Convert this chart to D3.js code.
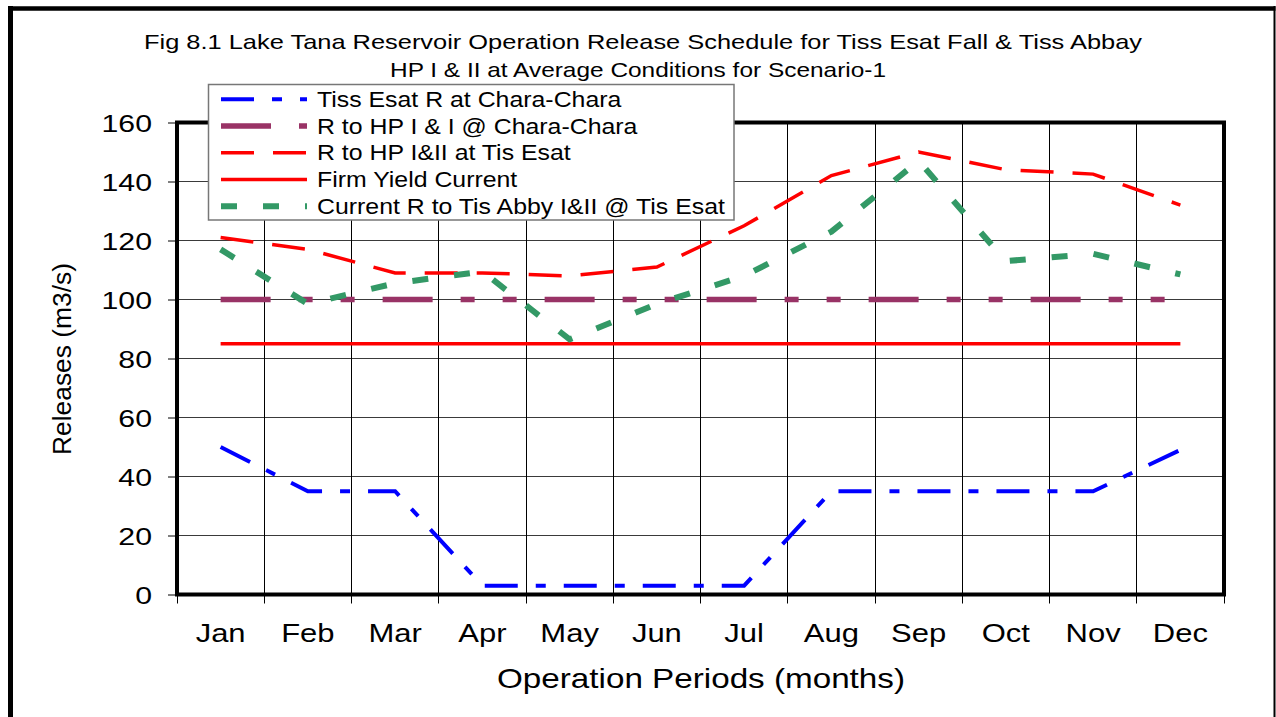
<!DOCTYPE html>
<html>
<head>
<meta charset="utf-8">
<script src="https://cdn.jsdelivr.net/npm/d3@7/dist/d3.min.js"></script>
<style>
  html, body { margin: 0; padding: 0; background: #fff; }
  svg { display: block; font-family: "Liberation Sans", Arial, Helvetica, sans-serif; }
</style>
</head>
<body>
<svg id="chart" width="1276" height="717"></svg>
<script>
// Monthly release schedule, m3/s
const months = ["Jan", "Feb", "Mar", "Apr", "May", "Jun", "Jul", "Aug", "Sep", "Oct", "Nov", "Dec"];
const yTicks = [0, 20, 40, 60, 80, 100, 120, 140, 160];

const tissEsatChara   = [50, 35, 35, 3, 3, 3, 3, 35, 35, 35, 35, 49];
const hpChara         = [100, 100, 100, 100, 100, 100, 100, 100, 100, 100, 100, 100];
const hpTisEsat       = [121, 117, 109, 109, 108, 111, 125, 142, 150, 144, 142.5, 132];
const firmYield       = [85, 85, 85, 85, 85, 85, 85, 85, 85, 85, 85, 85];
const currentTisAbby  = [117, 98.5, 105.5, 109.5, 86.5, 98.5, 108, 123, 147, 113, 115.5, 108.5];

const seriesNames = [
  "Tiss Esat R at Chara-Chara",
  "R to HP I & I @ Chara-Chara",
  "R to HP I&II at Tis Esat",
  "Firm Yield Current",
  "Current R to Tis Abby I&II @ Tis Esat"
];

const titleLines = [
  "Fig 8.1 Lake Tana Reservoir Operation Release Schedule for Tiss Esat Fall & Tiss Abbay",
  "HP I & II at Average Conditions for Scenario-1"
];
const xTitle = "Operation Periods (months)";
const yTitle = "Releases (m3/s)";

// Line styles for each series, in drawing order
const series = [
  { name: seriesNames[0], values: tissEsatChara,  color: "#0000FF", width: 4,   dash: "33,18,10,18" },
  { name: seriesNames[1], values: hpChara,        color: "#993366", width: 5.5, dash: "50,28,14,28,14,28" },
  { name: seriesNames[2], values: hpTisEsat,      color: "#FF0000", width: 3.5, dash: "33,19" },
  { name: seriesNames[3], values: firmYield,      color: "#FF0000", width: 3.5, dash: null },
  { name: seriesNames[4], values: currentTisAbby, color: "#339966", width: 6,   dash: "16,26" }
];

const svg = d3.select("#chart");
const plot = { left: 177, right: 1224, top: 122.5, bottom: 594.5 };

const x = d3.scaleBand().domain(months).range([plot.left, plot.right]).padding(0);
const y = d3.scaleLinear().domain([0, 160]).range([plot.bottom, plot.top]);
const cx = m => x(m) + x.bandwidth() / 2;
const crisp = v => Math.round(v - 0.5) + 0.5;

// Outer chart frame
svg.append("line").attr("x1", 10.5).attr("x2", 10.5).attr("y1", 6).attr("y2", 717)
  .attr("stroke", "#000").attr("stroke-width", 5);
svg.append("line").attr("x1", 8).attr("x2", 1275.5).attr("y1", 8.5).attr("y2", 8.5)
  .attr("stroke", "#000").attr("stroke-width", 4.5);
svg.append("line").attr("x1", 1274.5).attr("x2", 1274.5).attr("y1", 6).attr("y2", 717)
  .attr("stroke", "#000").attr("stroke-width", 2);

// Title
svg.append("text").attr("x", 643).attr("y", 48.5).attr("text-anchor", "middle")
  .attr("font-size", 21).attr("textLength", 998).attr("lengthAdjust", "spacingAndGlyphs")
  .text(titleLines[0]);
svg.append("text").attr("x", 638).attr("y", 77).attr("text-anchor", "middle")
  .attr("font-size", 21).attr("textLength", 496).attr("lengthAdjust", "spacingAndGlyphs")
  .text(titleLines[1]);

// Horizontal gridlines
svg.append("g").selectAll("line").data(yTicks.filter(t => t > 0 && t < 160)).join("line")
  .attr("x1", plot.left).attr("x2", plot.right)
  .attr("y1", d => crisp(y(d))).attr("y2", d => crisp(y(d)))
  .attr("stroke", "#3a3a3a").attr("stroke-width", 1);

// Vertical gridlines between months
const bounds = d3.range(1, months.length).map(i => plot.left + i * x.step());
svg.append("g").selectAll("line").data(bounds).join("line")
  .attr("x1", d => crisp(d)).attr("x2", d => crisp(d))
  .attr("y1", plot.top).attr("y2", plot.bottom)
  .attr("stroke", "#000").attr("stroke-width", 1);

// Y axis
const yAxis = svg.append("g").attr("transform", `translate(${plot.left},0)`)
  .call(d3.axisLeft(y).tickValues(yTicks).tickSize(9).tickSizeOuter(0).tickPadding(16));
yAxis.select(".domain").remove();
yAxis.selectAll(".tick line").attr("stroke", "#000").attr("stroke-width", 1);
yAxis.selectAll(".tick text")
  .attr("font-size", 24).attr("fill", "#000").attr("font-family", null)
  .attr("dy", null).attr("x", null)
  .attr("transform", "translate(-25,9) scale(1.26,1)");

// X axis: ticks at month boundaries, labels centred on months
const xAxis = svg.append("g").attr("transform", `translate(0,${plot.bottom})`);
xAxis.selectAll("line").data(d3.range(0, months.length + 1).map(i => plot.left + i * x.step())).join("line")
  .attr("x1", d => crisp(d)).attr("x2", d => crisp(d)).attr("y1", 0).attr("y2", 9)
  .attr("stroke", "#000").attr("stroke-width", 1);
xAxis.selectAll("text").data(months).join("text")
  .attr("text-anchor", "middle").attr("font-size", 25)
  .attr("transform", d => `translate(${cx(d)},47) scale(1.24,1)`)
  .text(d => d);

// Axis titles
svg.append("text").attr("x", 701).attr("y", 688).attr("text-anchor", "middle")
  .attr("font-size", 28).attr("textLength", 408).attr("lengthAdjust", "spacingAndGlyphs")
  .text(xTitle);
svg.append("text").attr("transform", "translate(71,359) rotate(-90)").attr("text-anchor", "middle")
  .attr("font-size", 25).attr("textLength", 192).attr("lengthAdjust", "spacingAndGlyphs")
  .text(yTitle);

// Series lines
const line = d3.line().x((d, i) => cx(months[i])).y(d => y(d));
svg.append("g").selectAll("path").data(series).join("path")
  .attr("d", s => line(s.values))
  .attr("fill", "none")
  .attr("stroke", s => s.color)
  .attr("stroke-width", s => s.width)
  .attr("stroke-dasharray", s => s.dash)
  .attr("stroke-linejoin", "miter")
  .attr("stroke-linecap", "butt");

// Plot area border
svg.append("rect").attr("x", plot.left).attr("y", plot.top)
  .attr("width", plot.right - plot.left).attr("height", plot.bottom - plot.top)
  .attr("fill", "none").attr("stroke", "#000").attr("stroke-width", 4);

// Legend
const legend = svg.append("g");
legend.append("rect").attr("x", 208.5).attr("y", 84.5).attr("width", 525.5).attr("height", 135.5)
  .attr("fill", "#fff").attr("stroke", "#777").attr("stroke-width", 1.5);
const rows = legend.selectAll("g.row").data(series).join("g")
  .attr("class", "row")
  .attr("transform", (d, i) => `translate(0,${99.3 + i * 26.75})`);
rows.append("line").attr("x1", 221).attr("x2", 307).attr("y1", 0).attr("y2", 0)
  .attr("stroke", d => d.color).attr("stroke-width", d => d.width)
  .attr("stroke-dasharray", d => d.dash);
rows.append("text").attr("font-size", 22)
  .attr("transform", "translate(317,7.5) scale(1.13,1)")
  .text(d => d.name);
</script>
</body>
</html>
